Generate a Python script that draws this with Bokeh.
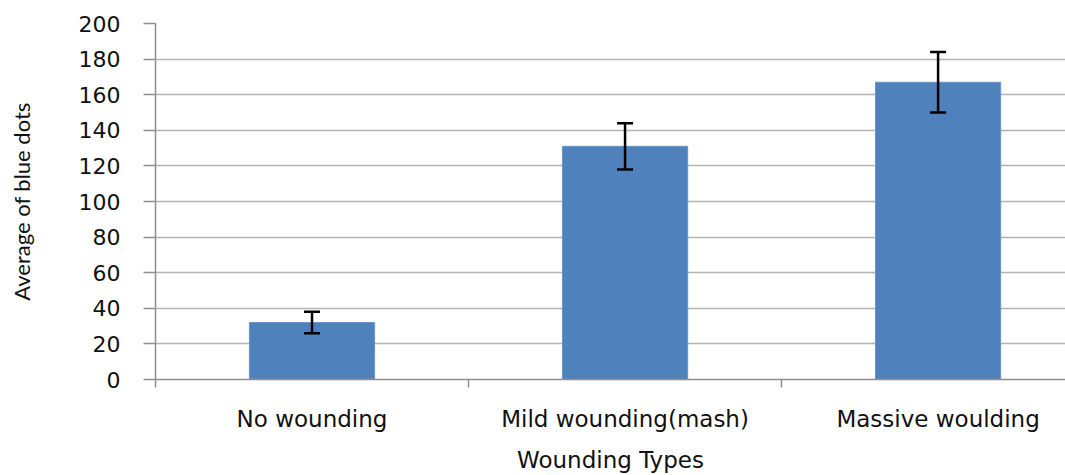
from bokeh.plotting import figure
from bokeh.models import ColumnDataSource, Range1d, FixedTicker, Whisker, TeeHead
from bokeh.embed import file_html
from bokeh.resources import INLINE

categories = ["No wounding", "Mild wounding(mash)", "Massive woulding"]
averages = [32, 131, 167]
errors = [6, 13, 17]
y_ticks = [0, 20, 40, 60, 80, 100, 120, 140, 160, 180, 200]
x_title = "Wounding Types"
y_title = "Average of blue dots"

xs = [i + 0.5 for i in range(len(categories))]
src = ColumnDataSource(dict(
    x=xs,
    top=averages,
    lower=[a - e for a, e in zip(averages, errors)],
    upper=[a + e for a, e in zip(averages, errors)],
))

p = figure(width=1065, height=475, output_backend="svg", toolbar_location=None,
           x_range=Range1d(0, 2.907), y_range=Range1d(0, 200),
           min_border_left=155, min_border_right=0, min_border_top=23,
           min_border_bottom=96)
p.outline_line_color = None
p.background_fill_color = "white"

p.vbar(x="x", top="top", width=0.4, bottom=0, source=src,
       fill_color="#4F81BD", line_color="#6A94C8", line_width=1)

w = Whisker(base="x", lower="lower", upper="upper", source=src,
            line_color="black", line_width=2.5, level="overlay",
            upper_head=TeeHead(size=16, line_color="black", line_width=2.5),
            lower_head=TeeHead(size=16, line_color="black", line_width=2.5))
p.add_layout(w)

# x axis
p.xaxis.ticker = FixedTicker(ticks=xs, minor_ticks=list(range(len(categories) + 1)))
p.xaxis.major_label_overrides = {x: c for x, c in zip(xs, categories)}
p.xaxis.major_tick_out = 0
p.xaxis.major_tick_in = 0
p.xaxis.minor_tick_out = 8
p.xaxis.minor_tick_in = 0
p.xaxis.minor_tick_line_color = "#8E8E8E"
p.xaxis.minor_tick_line_width = 1.5
p.xaxis.axis_line_color = "#8E8E8E"
p.xaxis.axis_line_width = 1.5
p.xaxis.major_label_standoff = 18
p.xaxis.major_label_text_font = "DejaVu Sans"
p.xaxis.major_label_text_font_size = "23px"
p.xaxis.major_label_text_color = "#111111"
p.xaxis.axis_label = x_title
p.xaxis.axis_label_text_font = "DejaVu Sans"
p.xaxis.axis_label_text_font_size = "23px"
p.xaxis.axis_label_text_font_style = "normal"
p.xaxis.axis_label_text_color = "#111111"
p.xaxis.axis_label_standoff = 12
p.xgrid.grid_line_color = None

# y axis
p.yaxis.ticker = FixedTicker(ticks=y_ticks)
p.yaxis.major_tick_out = 12
p.yaxis.major_tick_in = 0
p.yaxis.minor_tick_line_color = None
p.yaxis.major_tick_line_color = "#8E8E8E"
p.yaxis.major_tick_line_width = 1.5
p.yaxis.axis_line_color = "#8E8E8E"
p.yaxis.axis_line_width = 1.5
p.yaxis.major_label_standoff = 23
p.yaxis.major_label_text_font = "DejaVu Sans"
p.yaxis.major_label_text_font_size = "22px"
p.yaxis.major_label_text_color = "#111111"
p.yaxis.axis_label = y_title
p.yaxis.axis_label_text_font = "Lato"
p.yaxis.axis_label_text_font_size = "22px"
p.yaxis.axis_label_text_font_style = "normal"
p.yaxis.axis_label_text_color = "#111111"
p.yaxis.axis_label_standoff = 41
p.ygrid.grid_line_color = "#B3B3B3"
p.ygrid.grid_line_width = 1.5

open("out.html", "w").write(file_html(p, INLINE))
